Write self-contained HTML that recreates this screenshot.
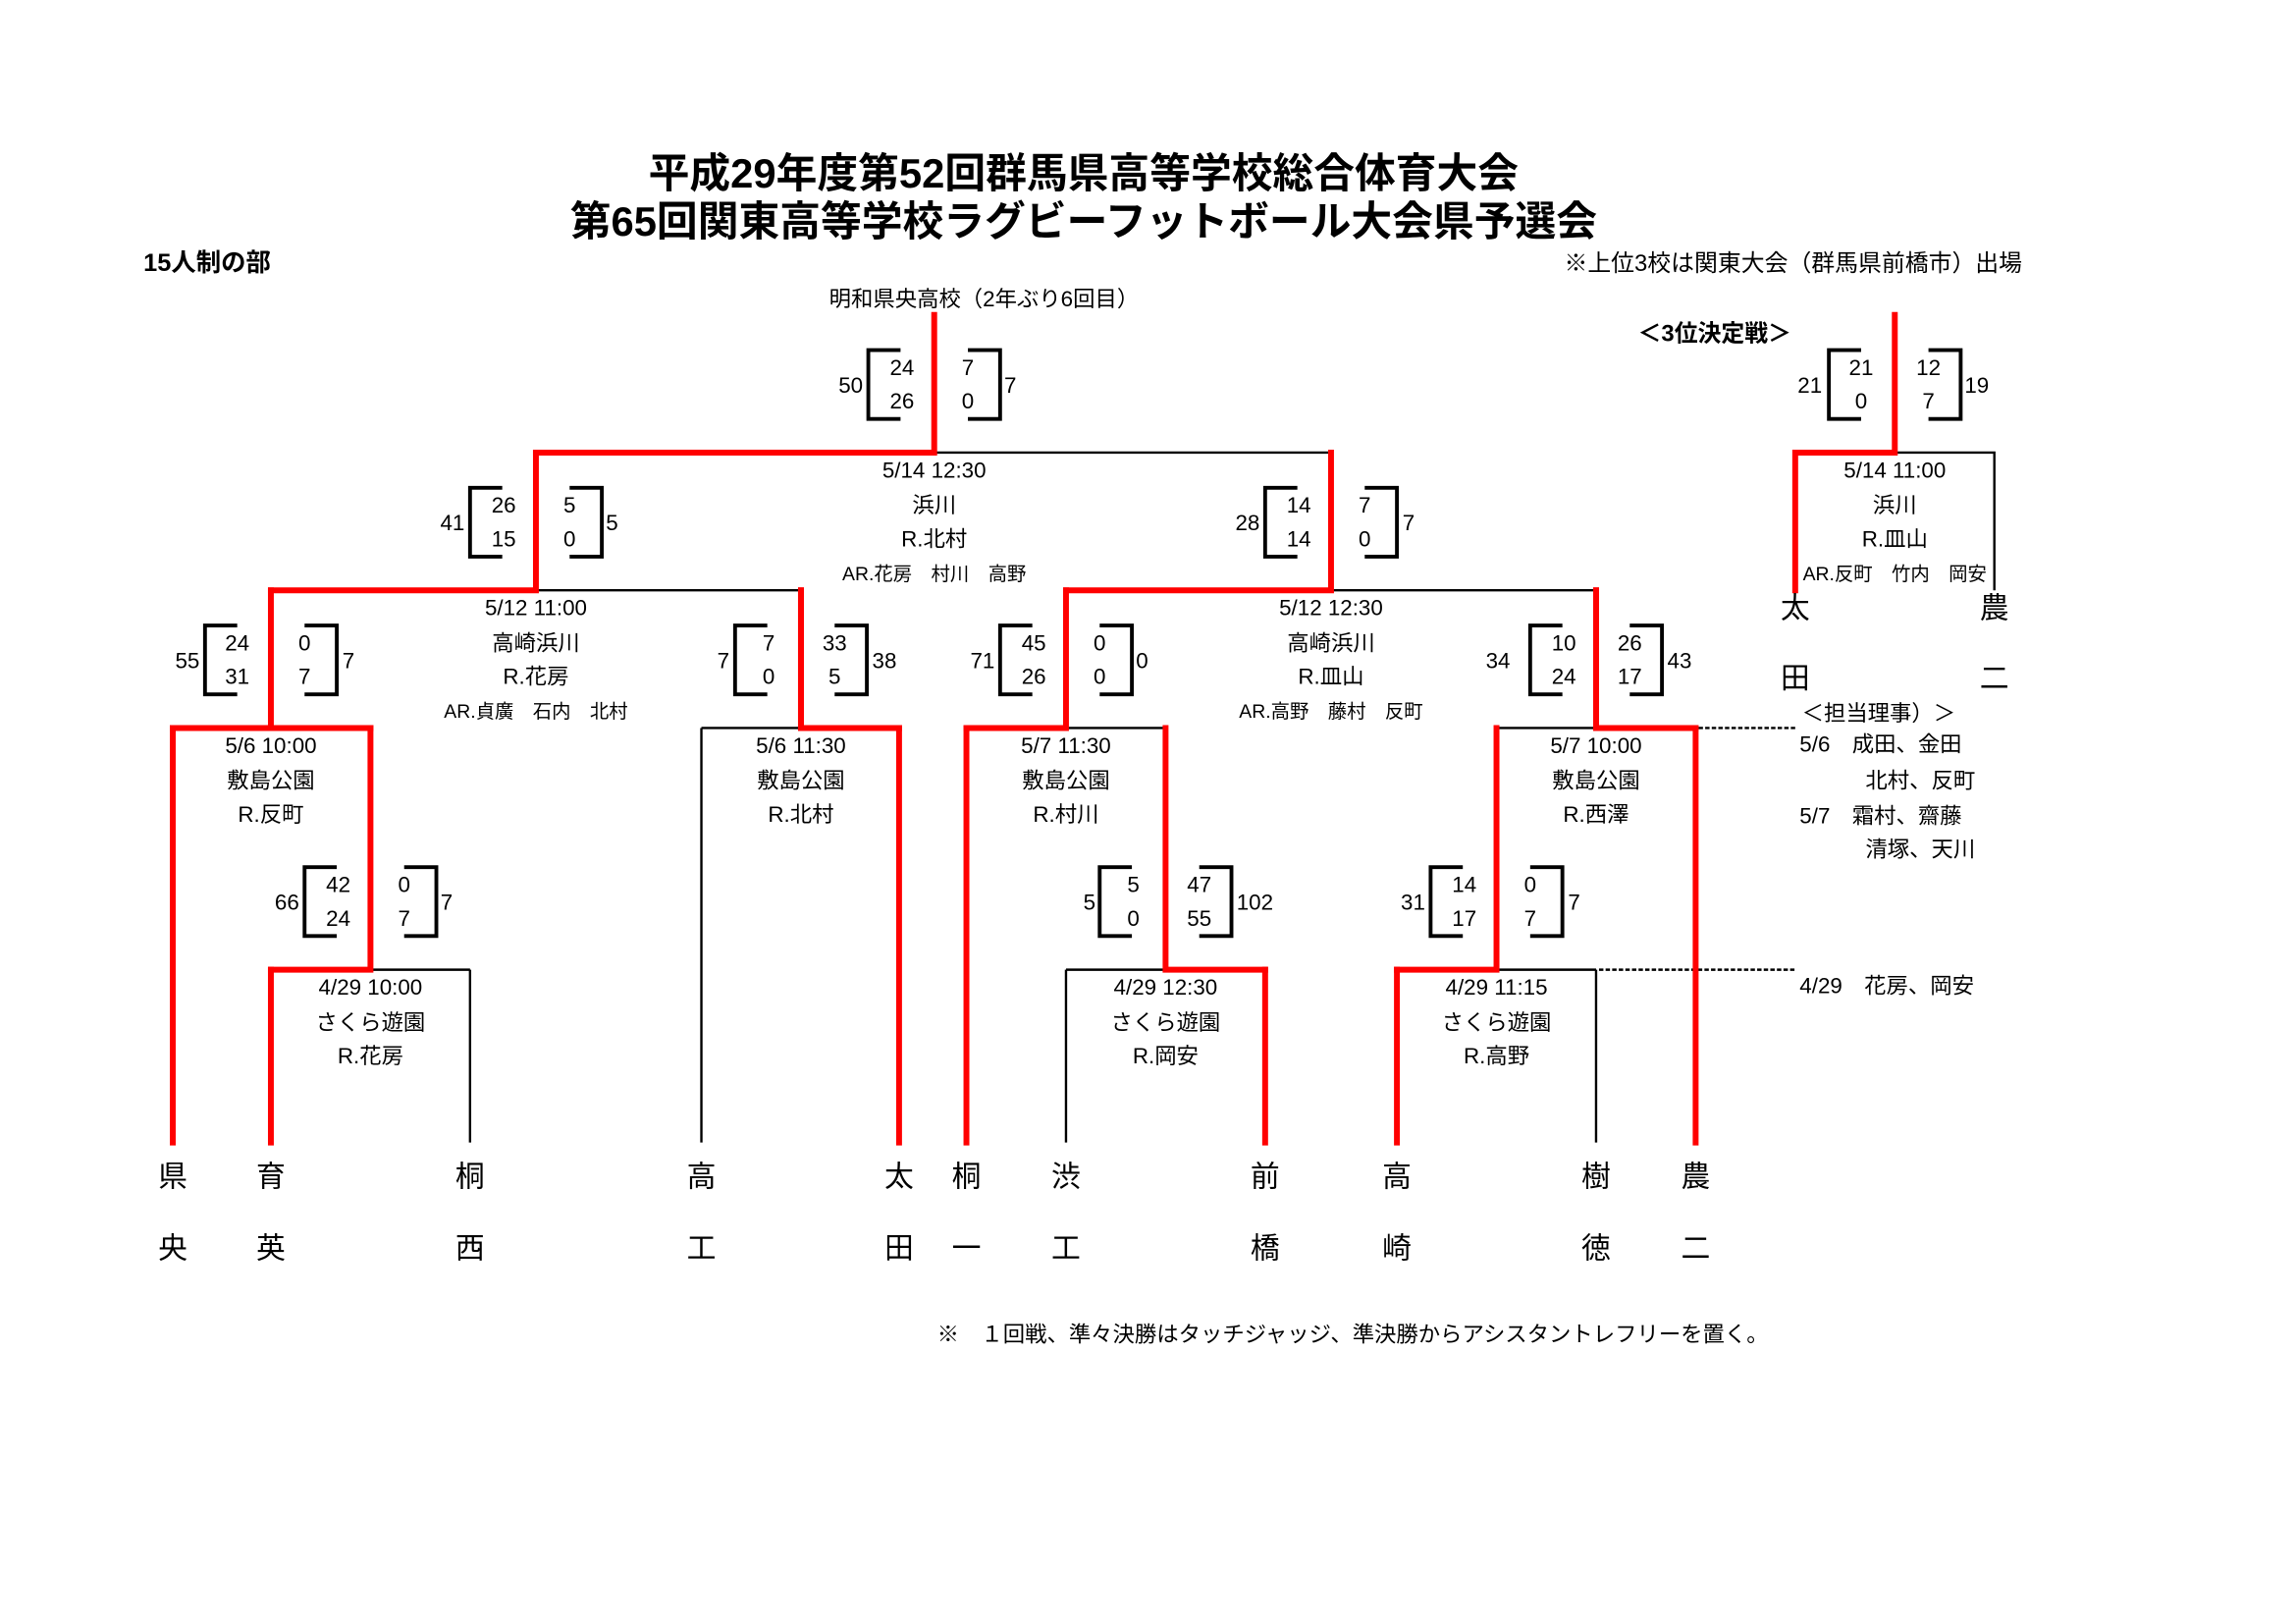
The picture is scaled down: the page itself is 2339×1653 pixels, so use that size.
<!DOCTYPE html>
<html><head><meta charset="utf-8"><style>
html,body{margin:0;padding:0;background:#fff;}
svg{display:block;}
text{font-family:"Liberation Sans","Noto Sans CJK JP",sans-serif;fill:#000;}
.t{font-size:15px;text-anchor:middle;}
.n{font-size:15px;text-anchor:middle;}
.l{font-size:20px;text-anchor:middle;}
.r{stroke:#f00;stroke-width:4;fill:none;stroke-linecap:square;}
.k{stroke:#000;stroke-width:1.6;fill:none;}
.b{stroke:#000;stroke-width:2.6;fill:none;}
</style></head><body>
<svg width="2339" height="1653" viewBox="0 0 1568 1108" preserveAspectRatio="none">
<rect width="1568" height="1108" fill="#fff"/>
<text x="740" y="128" style="font-size:28px;font-weight:bold;text-anchor:middle">平成29年度第52回群馬県高等学校総合体育大会</text>
<text x="740" y="161" style="font-size:28px;font-weight:bold;text-anchor:middle">第65回関東高等学校ラグビーフットボール大会県予選会</text>
<text x="98" y="185" style="font-size:17px;font-weight:bold">15人制の部</text>
<text x="1381" y="185" style="font-size:16px;text-anchor:end">※上位3校は関東大会（群馬県前橋市）出場</text>
<text x="672" y="209" class="t">明和県央高校（2年ぶり6回目）</text>
<text x="1171" y="233" style="font-size:16px;font-weight:bold;text-anchor:middle">＜3位決定戦＞</text>

<g class="k">
<path d="M321 662V780M253 662H321"/>
<path d="M479 497V780M479 497H547"/>
<path d="M728 662V780M728 662H796M728 497H796"/>
<path d="M1090 662V780M1022 662H1090M1022 497H1090"/>
<path d="M366 403H547M909 403H1090M638 309H909"/>
<path d="M1294 309H1362V403"/>
<path d="M1160 497H1226M1092 662H1226" stroke-dasharray="3,1.5"/>
</g>
<g class="r">
<path d="M118 497V780M185 662V780M614 497V780M660 497V780M864 662V780M954 662V780M1158 497V780"/>
<path d="M185 662H253V497M796 497V662H864M954 662H1022V497"/>
<path d="M118 497H253M185 497V403M547 497H614M547 497V403M660 497H728M728 497V403M1090 497H1158M1090 497V403"/>
<path d="M185 403H366V309M728 403H909V309M909 309V403M547 403V497M1090 403V497"/>
<path d="M366 309H638V215"/>
<path d="M1226 403V309H1294V215"/>
</g>

<g class="b">
<path d="M615 239H593V286H615M661 239H683V286H661"/>
<path d="M343 333H321V380H343M389 333H411V380H389"/>
<path d="M886 333H864V380H886M932 333H954V380H932"/>
<path d="M162 427H140V474H162M208 427H230V474H208"/>
<path d="M524 427H502V474H524M570 427H592V474H570"/>
<path d="M705 427H683V474H705M751 427H773V474H751"/>
<path d="M1067 427H1045V474H1067M1113 427H1135V474H1113"/>
<path d="M230 592H208V639H230M276 592H298V639H276"/>
<path d="M773 592H751V639H773M819 592H841V639H819"/>
<path d="M999 592H977V639H999M1045 592H1067V639H1045"/>
<path d="M1271 239H1249V286H1271M1317 239H1339V286H1317"/>
</g>
<g class="n">
<text x="581" y="268">50</text><text x="616" y="256">24</text><text x="616" y="279">26</text><text x="661" y="256">7</text><text x="661" y="279">0</text><text x="690" y="268">7</text>
<text x="309" y="362">41</text><text x="344" y="350">26</text><text x="344" y="373">15</text><text x="389" y="350">5</text><text x="389" y="373">0</text><text x="418" y="362">5</text>
<text x="852" y="362">28</text><text x="887" y="350">14</text><text x="887" y="373">14</text><text x="932" y="350">7</text><text x="932" y="373">0</text><text x="962" y="362">7</text>
<text x="128" y="456">55</text><text x="162" y="444">24</text><text x="162" y="467">31</text><text x="208" y="444">0</text><text x="208" y="467">7</text><text x="238" y="456">7</text>
<text x="494" y="456">7</text><text x="525" y="444">7</text><text x="525" y="467">0</text><text x="570" y="444">33</text><text x="570" y="467">5</text><text x="604" y="456">38</text>
<text x="671" y="456">71</text><text x="706" y="444">45</text><text x="706" y="467">26</text><text x="751" y="444">0</text><text x="751" y="467">0</text><text x="780" y="456">0</text>
<text x="1023" y="456">34</text><text x="1068" y="444">10</text><text x="1068" y="467">24</text><text x="1113" y="444">26</text><text x="1113" y="467">17</text><text x="1147" y="456">43</text>
<text x="196" y="621">66</text><text x="231" y="609">42</text><text x="231" y="632">24</text><text x="276" y="609">0</text><text x="276" y="632">7</text><text x="305" y="621">7</text>
<text x="744" y="621">5</text><text x="774" y="609">5</text><text x="774" y="632">0</text><text x="819" y="609">47</text><text x="819" y="632">55</text><text x="857" y="621">102</text>
<text x="965" y="621">31</text><text x="1000" y="609">14</text><text x="1000" y="632">17</text><text x="1045" y="609">0</text><text x="1045" y="632">7</text><text x="1075" y="621">7</text>
<text x="1236" y="268">21</text><text x="1271" y="256">21</text><text x="1271" y="279">0</text><text x="1317" y="256">12</text><text x="1317" y="279">7</text><text x="1350" y="268">19</text>
</g>

<g class="t">
<text x="638" y="326">5/14 12:30</text><text x="638" y="350">浜川</text><text x="638" y="373">R.北村</text><text x="638" y="396" style="font-size:13px">AR.花房　村川　高野</text>
<text x="366" y="420">5/12 11:00</text><text x="366" y="444">高崎浜川</text><text x="366" y="467">R.花房</text><text x="366" y="490" style="font-size:13px">AR.貞廣　石内　北村</text>
<text x="909" y="420">5/12 12:30</text><text x="909" y="444">高崎浜川</text><text x="909" y="467">R.皿山</text><text x="909" y="490" style="font-size:13px">AR.高野　藤村　反町</text>
<text x="1294" y="326">5/14 11:00</text><text x="1294" y="350">浜川</text><text x="1294" y="373">R.皿山</text><text x="1294" y="396" style="font-size:13px">AR.反町　竹内　岡安</text>
<text x="185" y="514">5/6 10:00</text><text x="185" y="538">敷島公園</text><text x="185" y="561">R.反町</text>
<text x="547" y="514">5/6 11:30</text><text x="547" y="538">敷島公園</text><text x="547" y="561">R.北村</text>
<text x="728" y="514">5/7 11:30</text><text x="728" y="538">敷島公園</text><text x="728" y="561">R.村川</text>
<text x="1090" y="514">5/7 10:00</text><text x="1090" y="538">敷島公園</text><text x="1090" y="561">R.西澤</text>
<text x="253" y="679">4/29 10:00</text><text x="253" y="703">さくら遊園</text><text x="253" y="726">R.花房</text>
<text x="796" y="679">4/29 12:30</text><text x="796" y="703">さくら遊園</text><text x="796" y="726">R.岡安</text>
<text x="1022" y="679">4/29 11:15</text><text x="1022" y="703">さくら遊園</text><text x="1022" y="726">R.高野</text>
</g>

<text x="1283" y="492" class="t">＜担当理事）＞</text>
<text x="1229" y="513" style="font-size:15px">5/6　成田、金田</text>
<text x="1274" y="538" style="font-size:15px">北村、反町</text>
<text x="1229" y="562" style="font-size:15px">5/7　霜村、齋藤</text>
<text x="1274" y="585" style="font-size:15px">清塚、天川</text>
<text x="1229" y="678" style="font-size:15px">4/29　花房、岡安</text>

<g class="l">
<text x="1226" y="422">太</text><text x="1226" y="470">田</text>
<text x="1362" y="422">農</text><text x="1362" y="470">二</text>
<text x="118" y="810">県</text><text x="118" y="859">央</text>
<text x="185" y="810">育</text><text x="185" y="859">英</text>
<text x="321" y="810">桐</text><text x="321" y="859">西</text>
<text x="479" y="810">高</text><text x="479" y="859">工</text>
<text x="614" y="810">太</text><text x="614" y="859">田</text>
<text x="660" y="810">桐</text><text x="660" y="859">一</text>
<text x="728" y="810">渋</text><text x="728" y="859">工</text>
<text x="864" y="810">前</text><text x="864" y="859">橋</text>
<text x="954" y="810">高</text><text x="954" y="859">崎</text>
<text x="1090" y="810">樹</text><text x="1090" y="859">徳</text>
<text x="1158" y="810">農</text><text x="1158" y="859">二</text>
</g>
<text x="640" y="916" style="font-size:15px">※　１回戦、準々決勝はタッチジャッジ、準決勝からアシスタントレフリーを置く。</text>
</svg>
</body></html>
